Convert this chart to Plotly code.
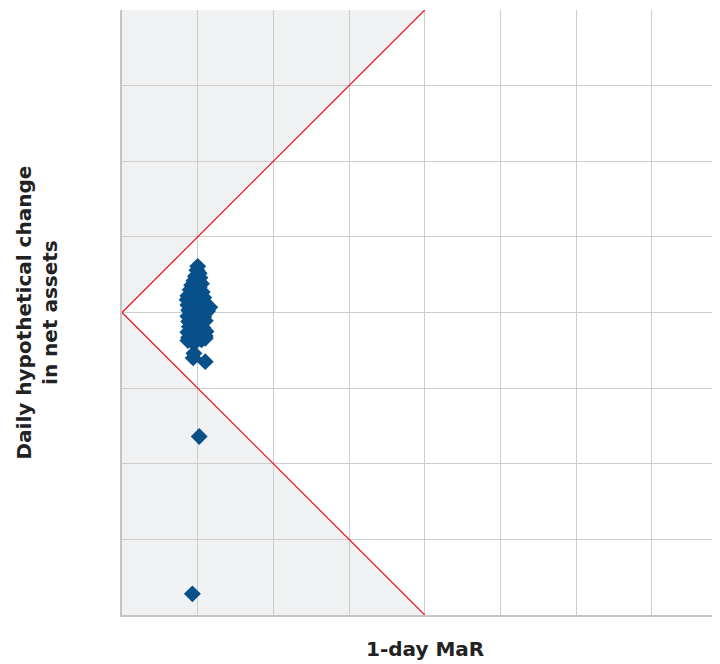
import plotly.graph_objects as go

# Data: (1-day MaR, daily hypothetical change in net assets)
mar = [1.00, 0.99, 1.02, 0.97, 1.03, 0.95, 1.00, 1.05, 0.92, 0.98, 1.02, 0.90,
       0.95, 1.00, 1.06, 0.87, 0.93, 0.98, 1.03, 1.08, 0.86, 0.94, 1.00, 1.05,
       1.10, 0.87, 0.92, 0.97, 1.02, 1.08, 1.16, 0.88, 0.93, 0.99, 1.04, 1.10,
       1.13, 0.87, 0.92, 0.97, 1.03, 1.08, 0.88, 0.94, 1.00, 1.06, 1.10, 0.89,
       0.95, 1.01, 1.07, 0.87, 0.93, 0.99, 1.05, 1.11, 0.88, 0.95, 1.02, 1.10,
       0.87, 0.92, 0.99, 1.05, 1.10, 0.94, 0.95, 1.10, 1.02, 0.93]
change = [0.61, 0.56, 0.52, 0.48, 0.46, 0.42, 0.41, 0.38, 0.36, 0.35, 0.33, 0.30,
          0.29, 0.28, 0.27, 0.22, 0.23, 0.22, 0.21, 0.20, 0.17, 0.16, 0.15, 0.14,
          0.12, 0.10, 0.09, 0.08, 0.07, 0.06, 0.07, 0.03, 0.02, 0.01, 0.00, -0.01,
          0.02, -0.05, -0.06, -0.07, -0.08, -0.06, -0.12, -0.13, -0.14, -0.13, -0.11, -0.19,
          -0.20, -0.21, -0.20, -0.26, -0.27, -0.27, -0.28, -0.25, -0.33, -0.34, -0.33, -0.31,
          -0.37, -0.38, -0.37, -0.36, -0.34, -0.60, -0.54, -0.65, -1.64, -3.72]

# Boundary of the backtesting zone
bound_x = [4, 0, 4]
bound_y = [4, 0, -4]
upper_fill_x = [0, 4, 0]
upper_fill_y = [0, 4, 4]
lower_fill_x = [0, 4, 0]
lower_fill_y = [0, -4, -4]

x_ticks = [0, 1, 2, 3, 4, 5, 6, 7, 8]
y_ticks = [-4, -3, -2, -1, 0, 1, 2, 3, 4]


def poly_path(xs, ys):
    pts = " L ".join(f"{x},{y}" for x, y in zip(xs, ys))
    return "M " + pts + " Z"


FONT = "DejaVu Sans"
TITLE_FONT = dict(size=20, family=FONT, color="#222222", weight="bold")

fig = go.Figure()
fig.add_trace(go.Scatter(x=bound_x, y=bound_y, mode="lines",
                         line=dict(color="#e8202a", width=1.3), showlegend=False))
fig.add_trace(go.Scatter(x=mar, y=change, mode="markers",
                         marker=dict(symbol="diamond", size=13, color="#08508a",
                                     line=dict(width=0)),
                         showlegend=False))

shapes = []
for fx, fy in [(upper_fill_x, upper_fill_y), (lower_fill_x, lower_fill_y)]:
    shapes.append(dict(type="path", xref="x", yref="y", path=poly_path(fx, fy),
                       fillcolor="#f0f1f3", line=dict(width=0), layer="below"))

fig.update_layout(
    width=712, height=656,
    margin=dict(l=114, r=0, t=2, b=49),
    plot_bgcolor="white", paper_bgcolor="white",
    font=dict(family=FONT, color="#222222"),
    shapes=shapes,
    xaxis=dict(range=[0, 598 / 75.7], tickvals=x_ticks, showticklabels=False,
               showgrid=True, gridcolor="#cccccc", gridwidth=1, zeroline=False,
               showline=True, linecolor="#c4c4c4", linewidth=2, ticks=""),
    yaxis=dict(range=[-4, 4], tickvals=y_ticks, showticklabels=False,
               showgrid=True, gridcolor="#cccccc", gridwidth=1, zeroline=False,
               showline=True, linecolor="#c4c4c4", linewidth=2, ticks=""),
    annotations=[
        dict(text="1-day MaR", xref="x", yref="paper", x=4, y=0, yshift=-34,
             showarrow=False, font=TITLE_FONT,
             xanchor="center", yanchor="middle"),
        dict(text="Daily hypothetical change<br>in net assets", xref="paper", yref="y",
             x=0, y=0, xshift=-86, showarrow=False, textangle=-90,
             font=TITLE_FONT, xanchor="center", yanchor="middle"),
    ],
)
fig.write_html("out.html")
